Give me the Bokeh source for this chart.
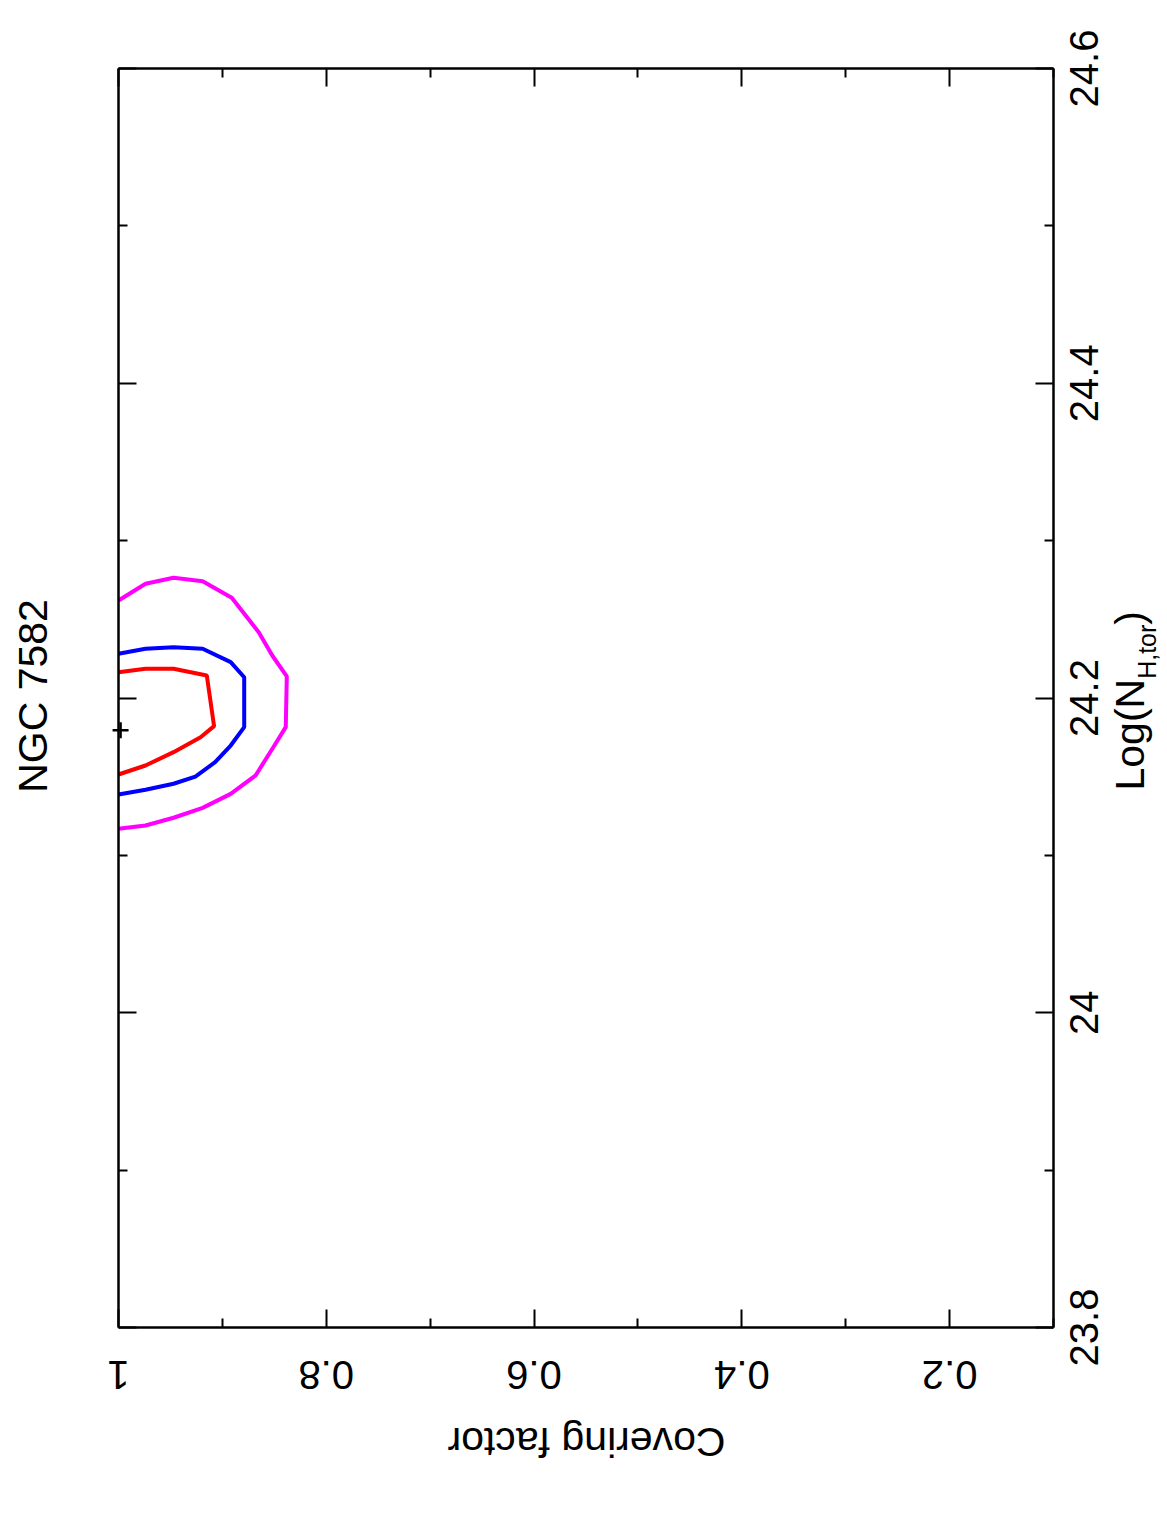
import math
from bokeh.plotting import figure
from bokeh.models import LinearAxis, FixedTicker, Label, Range1d, CustomJSTickFormatter
from bokeh.embed import file_html
from bokeh.resources import INLINE

# ---------------- data ----------------
title_text = "NGC 7582"
x_title = "Covering factor"

cf_major = [1.0, 0.8, 0.6, 0.4, 0.2]
cf_labels = ["1", "0.8", "0.6", "0.4", "0.2"]
cf_minor = [0.9, 0.7, 0.5, 0.3, 0.1]
nh_major = [23.8, 24.0, 24.2, 24.4, 24.6]
nh_labels = ["23.8", "24", "24.2", "24.4", "24.6"]
nh_minor = [23.9, 24.1, 24.3, 24.5]

# outer contour (magenta)
mag_cf = [1.0, 0.974, 0.947, 0.919, 0.891, 0.865, 0.852, 0.838, 0.839, 0.851, 0.868, 0.892, 0.919, 0.947, 0.974, 1.0]
mag_nh = [24.262, 24.2726, 24.2764, 24.2742, 24.2637, 24.2418, 24.2270, 24.2137, 24.1815, 24.1687,
          24.1508, 24.1391, 24.1302, 24.1239, 24.1190, 24.1169]
# middle contour (blue)
blu_cf = [1.0, 0.974, 0.947, 0.919, 0.892, 0.879, 0.879, 0.892, 0.907, 0.926, 0.947, 0.974, 1.0]
blu_nh = [24.2281, 24.2313, 24.2323, 24.2313, 24.2228, 24.2132, 24.1815, 24.1698, 24.1592, 24.1501,
          24.1455, 24.1417, 24.1387]
# inner contour (red)
red_cf = [1.0, 0.974, 0.947, 0.915, 0.908, 0.921, 0.947, 0.974, 1.0]
red_nh = [24.2164, 24.2186, 24.2186, 24.2143, 24.1821, 24.1751, 24.1656, 24.1571, 24.1514]
# best fit
best_cf = [0.998]
best_nh = [24.1795]

# ---------------- layout geometry (pixels) ----------------
FONT = "Liberation Sans"
W, H = 1167, 1523
L, T, FW, FH = 118, 68, 935, 1259       # box position on the page
CF_L, CF_R = 1.0, 0.1                   # covering factor at box left / right
NH_B, NH_T = 23.8, 24.6                 # log NH at box bottom / top


def dx(px):
    return CF_L + (px - L) / FW * (CF_R - CF_L)


def dy(py):
    return NH_T - (py - T) / FH * (NH_T - NH_B)


def px_of_x(v):
    return L + (v - CF_L) / (CF_R - CF_L) * FW


def px_of_y(v):
    return T + (NH_T - v) / (NH_T - NH_B) * FH


p = figure(width=W, height=H, min_border=0,
           x_range=Range1d(dx(0), dx(W)), y_range=Range1d(dy(H), dy(0)),
           x_axis_location=None, y_axis_location=None,
           output_backend="svg", toolbar_location=None,
           background_fill_color="white", border_fill_color="white")
p.xgrid.visible = False
p.ygrid.visible = False
p.outline_line_color = None

blank = CustomJSTickFormatter(code="return '';")


def make_axis(ticks, minor, loc, bounds):
    ax = LinearAxis(ticker=FixedTicker(ticks=ticks, minor_ticks=minor),
                    fixed_location=loc, bounds=bounds)
    ax.axis_line_width = 2.5
    ax.axis_line_color = "black"
    ax.major_tick_line_width = 2
    ax.minor_tick_line_width = 2
    ax.major_tick_in = 18
    ax.major_tick_out = 0
    ax.minor_tick_in = 9
    ax.minor_tick_out = 0
    ax.major_label_text_font = FONT
    ax.major_label_text_font_size = "4px"
    ax.formatter = blank
    ax.major_label_standoff = 0
    return ax


cf_bounds = (min(CF_L, CF_R), max(CF_L, CF_R))
nh_bounds = (NH_B, NH_T)

p.add_layout(make_axis(cf_major, cf_minor, NH_B, cf_bounds), "below")
p.add_layout(make_axis(cf_major, cf_minor, NH_T, cf_bounds), "above")
p.add_layout(make_axis(nh_major, nh_minor, CF_R, nh_bounds), "right")
p.add_layout(make_axis(nh_major, nh_minor, CF_L, nh_bounds), "left")

# contours
p.line(mag_cf, mag_nh, line_color="#FF00FF", line_width=4)
p.line(blu_cf, blu_nh, line_color="#0000FF", line_width=4)
p.line(red_cf, red_nh, line_color="#FF0000", line_width=4)
p.scatter(best_cf, best_nh, marker="cross", size=16, line_color="black", line_width=2.5)


# ------------- texts -------------
SHIFT = 0.415  # em offset that aligns the drawn baseline with the wanted one


def lab(px, py, text, angle, fs, align):
    ax_ = px - SHIFT * fs * math.sin(angle)
    ay_ = py - SHIFT * fs * math.cos(angle)
    p.add_layout(Label(x=dx(ax_), y=dy(ay_), text=text, angle=angle,
                       text_align=align, text_baseline="alphabetic",
                       text_font=FONT, text_font_size=f"{fs}px", text_color="black"))


# bottom tick labels (upside down), centred on their ticks
for v, s in zip(cf_major, cf_labels):
    lab(px_of_x(v), 1358, s, math.pi, 40, "center")

# right-hand tick labels (read bottom to top), centred on their ticks
for v, s in zip(nh_major, nh_labels):
    lab(1100, px_of_y(v), s, math.pi / 2, 40, "center")

# title
lab(50, 695.5, title_text, math.pi / 2, 41, "center")

# covering factor axis title (upside down)
lab(586, 1424, x_title, math.pi, 41, "center")

# Log(N_{H,tor}) built from three pieces
main_fs, sub_fs = 41, 25
y_start = 790
w_main = 2.723 * main_fs
w_sub = 2.167 * sub_fs
lab(1147, y_start, "Log(N", math.pi / 2, main_fs, "left")
lab(1157, y_start - w_main, "H,tor", math.pi / 2, sub_fs, "left")
lab(1147, y_start - w_main - w_sub, ")", math.pi / 2, main_fs, "left")

open("out.html", "w").write(file_html(p, INLINE))
